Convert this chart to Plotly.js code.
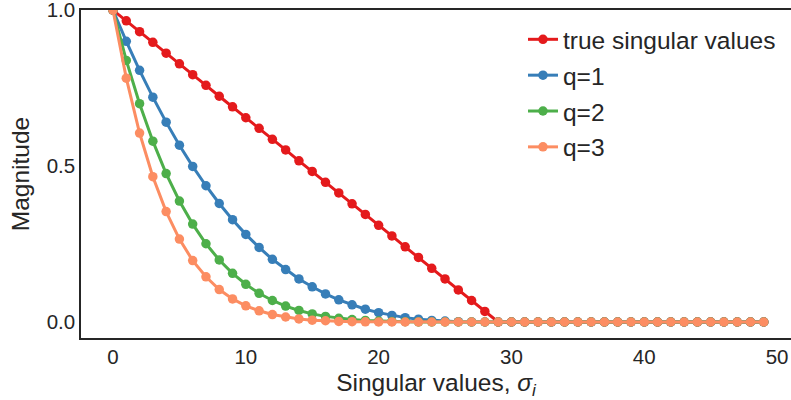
<!DOCTYPE html>
<html>
<head>
<meta charset="utf-8">
<script src="https://cdn.plot.ly/plotly-3.0.1.min.js"></script>
<style>html,body{margin:0;padding:0;background:#fff;}#chart{width:791px;height:400px;}</style>
</head>
<body>
<div id="chart"></div>
<script>
const xIndex = [0,1,2,3,4,5,6,7,8,9,10,11,12,13,14,15,16,17,18,19,20,21,22,23,24,25,26,27,28,29,30,31,32,33,34,35,36,37,38,39,40,41,42,43,44,45,46,47,48,49];
const trueValues = [1.000,0.966,0.931,0.897,0.862,0.828,0.793,0.759,0.724,0.690,0.655,0.621,0.586,0.552,0.517,0.483,0.448,0.414,0.379,0.345,0.310,0.276,0.241,0.207,0.172,0.138,0.103,0.069,0.034,0,0,0,0,0,0,0,0,0,0,0,0,0,0,0,0,0,0,0,0,0];
const q1Values = [1.000,0.900,0.807,0.721,0.641,0.567,0.499,0.437,0.380,0.328,0.281,0.239,0.201,0.168,0.138,0.113,0.090,0.071,0.055,0.041,0.030,0.021,0.014,0.009,0.005,0.003,0.001,0.0003,0,0,0,0,0,0,0,0,0,0,0,0,0,0,0,0,0,0,0,0,0,0];
const q2Values = [1.000,0.839,0.700,0.580,0.476,0.388,0.314,0.251,0.199,0.156,0.121,0.092,0.069,0.051,0.037,0.026,0.018,0.012,0.008,0.005,0.003,0.002,0.001,0.0004,0.0002,0,0,0,0,0,0,0,0,0,0,0,0,0,0,0,0,0,0,0,0,0,0,0,0,0];
const q3Values = [1.000,0.782,0.606,0.466,0.354,0.266,0.197,0.145,0.104,0.074,0.052,0.036,0.024,0.016,0.010,0.006,0.004,0.002,0.001,0.0006,0.0003,0.0001,0,0,0,0,0,0,0,0,0,0,0,0,0,0,0,0,0,0,0,0,0,0,0,0,0,0,0,0];
const seriesNames = ["true singular values","q=1","q=2","q=3"];
const seriesColors = ["#e41a1c","#377eb8","#4daf4a","#fc8d62"];
const seriesData = [trueValues,q1Values,q2Values,q3Values];
const yTickVals = [0,0.5,1.0];
const yTickText = ["0.0","0.5","1.0"];
const xTickVals = [0,10,20,30,40,50];
const xTickText = ["0","10","20","30","40","50"];

const traces = seriesData.map((ys,k)=>({
  x: xIndex, y: ys, type: "scatter", mode: "lines+markers",
  name: seriesNames[k], legendgroup: "g"+k,
  line: {color: seriesColors[k], width: 3},
  marker: {color: seriesColors[k], size: 9.5}
}));

const fontFam = '"Liberation Sans", Arial, sans-serif';
const layout = {
  width: 791, height: 400,
  margin: {l: 81, r: 0, t: 10, b: 62},
  paper_bgcolor: "#fff", plot_bgcolor: "#fff",
  font: {family: fontFam, color: "#262626", size: 20.5},
  showlegend: true,
  legend: {x: 0.6225, y: 0.979, xanchor: "left", yanchor: "top", bgcolor: "rgba(0,0,0,0)",
           font: {size: 24.5, family: fontFam, color: "#262626"}, tracegroupgap: 1, traceorder: "grouped"},
  xaxis: {range: [-2.41, 51.05], showgrid: false, zeroline: false, showline: true, mirror: true,
          linecolor: "#262626", linewidth: 1.7, ticks: "", tickvals: xTickVals,
          ticktext: xTickText, tickfont: {size: 20.5}, ticklabeloverflow: "allow",
          title: {text: "Singular values, <i>σ</i><sub><i>i</i></sub>", font: {size: 24.5}, standoff: 6}},
  yaxis: {range: [-0.0513, 1.0006], showgrid: false, zeroline: false, showline: true,
          linecolor: "#262626", linewidth: 1.7, ticks: "", tickvals: yTickVals,
          ticktext: yTickText, tickfont: {size: 20.5}, ticklabeloverflow: "allow",
          title: {text: "Magnitude", font: {size: 24.5}, standoff: 10}}
};
Plotly.newPlot("chart", traces, layout, {displayModeBar: false, staticPlot: true});
</script>
</body>
</html>
